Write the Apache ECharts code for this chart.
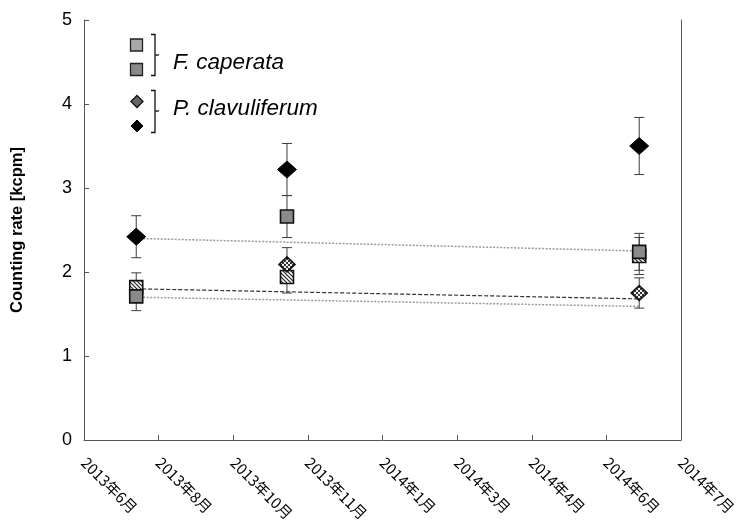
<!DOCTYPE html>
<html><head><meta charset="utf-8">
<script src="https://cdn.jsdelivr.net/npm/echarts@6/dist/echarts.min.js"></script>
<style>html,body{margin:0;padding:0;background:#fff}#c{width:738px;height:520px}</style>
</head><body><div id="c"></div>
<script>
// ---- data ----
const axisStart = '2013-06-25';            // first tick of the date axis (ticks every 50 days)
const tickStepDays = 50;
const tickLabels = ['2013年6月','2013年8月','2013年10月','2013年11月','2014年1月','2014年3月','2014年4月','2014年6月','2014年7月'];
const sampleDates = ['2013-07-30','2013-11-08','2014-07-02'];

const fcHatched    = [1.82, 1.94, 2.19];
const fcHatchedErr = [0.17, 0.19, 0.22];
const fcGray       = [1.71, 2.66, 2.24];
const fcGrayErr    = [0.17, 0.25, 0.22];
const pcHatched    = [null, 2.09, 1.75];
const pcHatchedErr = [null, 0.20, 0.18];
const pcBlack      = [2.42, 3.22, 3.50];
const pcBlackErr   = [0.25, 0.31, 0.34];

// expected-decay lines, from first to last sampling date
const decayBlack   = [2.40, 2.25];
const decayHatched = [1.80, 1.68];
const decayGray    = [1.70, 1.59];

// ---- helpers ----
const DAY = 86400000;
const toDay = d => Math.round((Date.parse(d) - Date.parse(axisStart)) / DAY);
const xs = sampleDates.map(toDay);

function stripeCanvas(){
  const c = document.createElement('canvas'); c.width = c.height = 4;
  const g = c.getContext('2d');
  g.fillStyle = '#fff'; g.fillRect(0,0,4,4);
  g.strokeStyle = '#222'; g.lineWidth = 1.2;
  g.beginPath();
  g.moveTo(-1,-1); g.lineTo(5,5);
  g.moveTo(-1,3); g.lineTo(1,5);
  g.moveTo(3,-1); g.lineTo(5,1);
  g.stroke();
  return c;
}
function checkCanvas(){
  const c = document.createElement('canvas'); c.width = c.height = 4;
  const g = c.getContext('2d');
  g.fillStyle = '#f0f0f0'; g.fillRect(0,0,4,4);
  g.fillStyle = '#333'; g.fillRect(0,0,2,2); g.fillRect(2,2,2,2);
  return c;
}
const stripeFill = {image: stripeCanvas(), repeat: 'repeat'};
const checkFill = {image: checkCanvas(), repeat: 'repeat'};

function pts(vals){ return xs.map((x,i)=> vals[i]==null ? null : [x, vals[i]]).filter(Boolean); }

function errSeries(vals, errs, z){
  return {
    type: 'custom', z, silent: true,
    data: xs.map((x,i)=> vals[i]==null ? null : [x, vals[i]-errs[i], vals[i]+errs[i]]).filter(Boolean),
    encode: {x: 0, y: [1,2]},
    renderItem(params, api){
      const x = api.value(0);
      const lo = api.coord([x, api.value(1)]);
      const hi = api.coord([x, api.value(2)]);
      const w = 5, st = {stroke:'#3c3c3c', lineWidth:1};
      return {type:'group', children:[
        {type:'line', shape:{x1:lo[0],y1:lo[1],x2:hi[0],y2:hi[1]}, style:st},
        {type:'line', shape:{x1:lo[0]-w,y1:lo[1],x2:lo[0]+w,y2:lo[1]}, style:st},
        {type:'line', shape:{x1:hi[0]-w,y1:hi[1],x2:hi[0]+w,y2:hi[1]}, style:st}
      ]};
    }
  };
}
// marker series drawn as custom shapes so pattern fills keep their pixel scale
function markerSeries(vals, kind, fill, stroke, lw, w, h, z){
  return {
    type: 'custom', z, silent: true,
    data: pts(vals), encode: {x: 0, y: 1},
    renderItem(params, api){
      const p = api.coord([api.value(0), api.value(1)]);
      const style = {fill, stroke, lineWidth: lw};
      if (kind === 'rect') {
        return {type:'rect', shape:{x:p[0]-w/2, y:p[1]-h/2, width:w, height:h}, style};
      }
      return {type:'polygon', shape:{points:[[p[0],p[1]-h/2],[p[0]+w/2,p[1]],[p[0],p[1]+h/2],[p[0]-w/2,p[1]]]}, style};
    }
  };
}
function decaySeries(v, type, color, width){
  return {type:'line', symbol:'none', silent:true, z:1,
    data:[[xs[0], v[0]], [xs[xs.length-1], v[1]]],
    lineStyle:{type, color, width}};
}

const chart = echarts.init(document.getElementById('c'), null, {renderer:'canvas'});
const axisColor = '#555';
chart.setOption({
  animation: false,
  grid: {left: 84, right: 57, top: 20, bottom: 80, containLabel: false, outerBoundsMode: 'none'},
  xAxis: {
    type: 'value', min: 0, max: tickStepDays*(tickLabels.length-1), interval: tickStepDays,
    axisLine: {show: true, lineStyle: {color: axisColor, width: 1}},
    axisTick: {show: true, inside: true, length: 5, lineStyle: {color: axisColor}},
    splitLine: {show: false},
    axisLabel: {
      rotate: -45, margin: 20, fontSize: 15, color: '#000',
      fontFamily: '"Noto Sans CJK JP", sans-serif',
      formatter: v => tickLabels[Math.round(v / tickStepDays)] || ''
    }
  },
  yAxis: [{
    type: 'value', min: 0, max: 5, interval: 1,
    name: 'Counting rate [kcpm]', nameLocation: 'middle', nameGap: 58,
    nameTextStyle: {fontSize: 16.5, fontWeight: 'bold', color: '#000', fontFamily: '"Liberation Sans", sans-serif'},
    axisLine: {show: true, lineStyle: {color: axisColor, width: 1}},
    axisTick: {show: true, inside: true, length: 5, lineStyle: {color: axisColor}},
    splitLine: {show: false},
    axisLabel: {fontSize: 18, color: '#000', margin: 12, fontFamily: '"Liberation Sans", sans-serif'}
  },{
    type: 'value', min: 0, max: 5, interval: 1, position: 'right',
    axisLine: {show: true, lineStyle: {color: axisColor, width: 1}},
    axisTick: {show: false}, axisLabel: {show: false}, splitLine: {show: false}
  }],
  series: [
    decaySeries(decayBlack, [2,1.5], '#9a9a9a', 1.5),
    decaySeries(decayHatched, [4,2], '#333', 1.2),
    decaySeries(decayGray, [2,1.5], '#9a9a9a', 1.5),
    errSeries(fcHatched, fcHatchedErr, 2),
    errSeries(fcGray, fcGrayErr, 2),
    errSeries(pcHatched, pcHatchedErr, 2),
    errSeries(pcBlack, pcBlackErr, 2),
    markerSeries(fcHatched, 'rect', stripeFill, '#111', 1.6, 13, 13, 3),
    markerSeries(fcGray, 'rect', '#8a8a8a', '#111', 1.6, 13, 13, 4),
    markerSeries(pcHatched, 'diamond', checkFill, '#111', 1.6, 16, 15, 5),
    markerSeries(pcBlack, 'diamond', '#000', '#000', 1, 19, 17, 6)
  ],
  graphic: [
    // F. caperata legend
    {type:'rect', shape:{x:130.5, y:39, width:12, height:12}, style:{fill:'#a8a8a8', stroke:'#222', lineWidth:1.3}},
    {type:'rect', shape:{x:130.5, y:63.5, width:12, height:12}, style:{fill:'#8a8a8a', stroke:'#222', lineWidth:1.3}},
    {type:'polyline', shape:{points:[[151,34.5],[155,34.5],[155,75.5],[151,75.5]]}, style:{stroke:'#111', lineWidth:1.3, fill:null}},
    {type:'line', shape:{x1:155, y1:55, x2:159, y2:55}, style:{stroke:'#111', lineWidth:1.3}},
    {type:'text', x:173, y:63, style:{text:'F. caperata', font:'italic 22.5px "Liberation Sans", Arial, sans-serif', fill:'#000', verticalAlign:'middle'}},
    // P. clavuliferum legend
    {type:'polygon', shape:{points:[[137,95.5],[143,101.5],[137,107.5],[131,101.5]]}, style:{fill:'#666', stroke:'#111', lineWidth:1.3}},
    {type:'polygon', shape:{points:[[137,120],[143,126],[137,132],[131,126]]}, style:{fill:'#000', stroke:'#000', lineWidth:1}},
    {type:'polyline', shape:{points:[[151,90.5],[155,90.5],[155,132.5],[151,132.5]]}, style:{stroke:'#111', lineWidth:1.3, fill:null}},
    {type:'line', shape:{x1:155, y1:111, x2:159, y2:111}, style:{stroke:'#111', lineWidth:1.3}},
    {type:'text', x:173, y:109, style:{text:'P. clavuliferum', font:'italic 22.5px "Liberation Sans", Arial, sans-serif', fill:'#000', verticalAlign:'middle'}}
  ]
});
</script>
</body></html>
